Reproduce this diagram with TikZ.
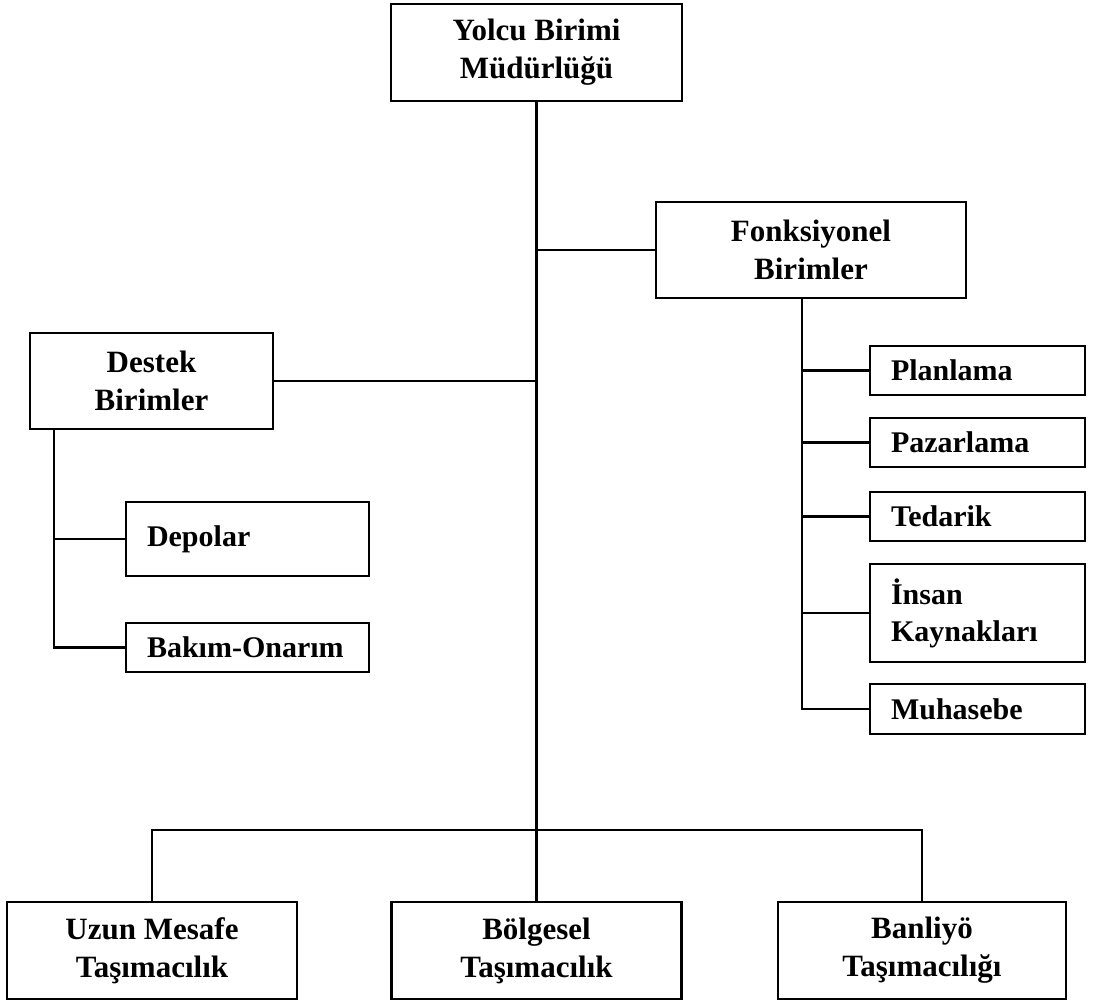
\documentclass[tikz,border=0pt]{standalone}
\usepackage{fontspec}
\setmainfont{Liberation Serif}
\begin{document}
\begin{tikzpicture}[x=1pt,y=-1pt,
  box/.style={draw,line width=2.2pt,align=center,inner sep=0pt,
    font=\fontsize{31}{38}\selectfont\bfseries},
  subbox/.style={draw,line width=2.2pt,align=left,inner xsep=21pt,inner ysep=0pt,
    font=\fontsize{30}{37}\selectfont\bfseries},
  link/.style={line width=2.2pt}]
\useasboundingbox (0,0) rectangle (1096,1002);
% main unit
\node[box,minimum width=291,minimum height=97] (yolcu) at (536.5,52.5) {Yolcu Birimi\\Müdürlüğü};
\node[box,minimum width=310,minimum height=96] (fonk) at (811,250) {Fonksiyonel\\Birimler};
\node[box,minimum width=243,minimum height=96] (destek) at (151.5,381) {Destek\\Birimler};
% functional units
\node[subbox,text width=173,minimum height=49] (plan) at (977.5,370.5) {Planlama};
\node[subbox,text width=173,minimum height=49] (paz) at (977.5,442.5) {Pazarlama};
\node[subbox,text width=173,minimum height=49] (ted) at (977.5,516.5) {Tedarik};
\node[subbox,text width=173,minimum height=98] (insan) at (977.5,613) {İnsan\\Kaynakları};
\node[subbox,text width=173,minimum height=50] (muh) at (977.5,709) {Muhasebe};
% support units
\node[subbox,text width=201,minimum height=74] (depo) at (247.5,539) {Depolar};
\node[subbox,text width=201,minimum height=49] (bakim) at (247.5,647.5) {\mbox{Bakım-Onarım}};
% transport units
\node[box,minimum width=290,minimum height=97] (uzun) at (152,950.5) {Uzun Mesafe\\Taşımacılık};
\node[box,minimum width=290,minimum height=97] (bolge) at (536.5,950.5) {Bölgesel\\Taşımacılık};
\node[box,minimum width=288,minimum height=97] (banliyo) at (922,950.5) {Banliyö\\Taşımacılığı};
% connectors
\coordinate (bar) at (536.5,830);
\coordinate (fstem) at (802,298);
\coordinate (dstem) at (54,429);
\draw[link] (yolcu.south) -- (bar);
\draw[link] (fonk.west) -- (fonk.west -| yolcu.south);
\draw[link] (destek.east) -- (destek.east -| yolcu.south);
\draw[link] (fstem) |- (muh.west);
\foreach \n in {plan,paz,ted,insan}
  \draw[link] (\n.west) -- (\n.west -| fstem);
\draw[link] (dstem) |- (bakim.west);
\draw[link] (depo.west) -- (depo.west -| dstem);
\draw[link] (uzun.north) |- (bar) -| (banliyo.north);
\draw[link] (bar) -- (bolge.north);
\end{tikzpicture}
\end{document}
